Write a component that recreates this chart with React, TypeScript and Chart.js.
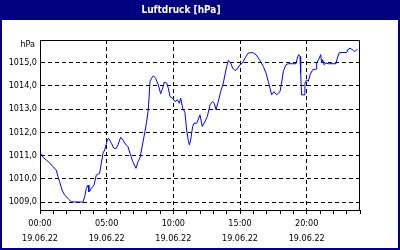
import React, { useEffect, useRef } from "react";
import { Chart, registerables } from "chart.js";

Chart.register(...registerables);

const TITLE = "Luftdruck [hPa]";
const UNIT = "hPa";
const DATE_LABEL = "19.06.22";

const hours = [
  0, 0.22, 0.47, 0.72, 0.97, 1.22, 1.35, 1.47, 1.65, 1.85, 2.22, 2.35, 3.22, 3.35, 3.47, 3.6, 3.67, 3.85,
  4.05, 4.22, 4.47, 4.6, 4.72, 4.85, 5.05, 5.15, 5.35, 5.55, 5.72, 5.85, 6.05, 6.22, 6.4, 6.6, 6.75, 6.95,
  7.2, 7.35, 7.5, 7.87, 8.0, 8.12, 8.2, 8.25, 8.37, 8.5, 8.67, 8.87, 9.05, 9.2, 9.32, 9.5, 9.62, 9.75, 9.95,
  10.12, 10.3, 10.45, 10.55, 10.7, 10.87, 11.0, 11.12, 11.2, 11.3, 11.45, 11.55, 11.75, 12.0, 12.17, 12.37,
  12.55, 12.75, 12.95, 13.07, 13.2, 13.37, 13.55, 13.75, 13.87, 14.0, 14.12, 14.3, 14.45, 14.62, 14.75, 15.0,
  15.2, 15.37, 15.62, 15.95, 16.2, 16.5, 16.75, 16.95, 17.12, 17.25, 17.37, 17.55, 17.75, 18.0, 18.12, 18.25,
  18.45, 18.62, 19.2, 19.3, 19.4, 19.5, 19.55, 19.62, 19.8, 19.87, 20.0, 20.12, 20.25, 20.45, 20.7, 20.75,
  20.95, 21.05, 21.12, 21.2, 21.3, 21.45, 21.62, 22.2, 22.3, 22.45, 23.0, 23.12, 23.25, 23.5, 23.62, 23.8,
];

const pressure = [
  1011.14, 1010.93, 1010.81, 1010.69, 1010.52, 1010.38, 1010.09, 1009.88, 1009.52, 1009.3, 1009.09, 1009.01,
  1009.0, 1009.23, 1009.59, 1009.73, 1009.44, 1009.59, 1009.73, 1010.16, 1010.24, 1010.67, 1011.1, 1011.24,
  1011.67, 1011.74, 1011.53, 1011.31, 1011.31, 1011.46, 1011.79, 1011.67, 1011.5, 1011.38, 1011.1, 1010.75,
  1010.45, 1010.74, 1010.9, 1012.03, 1012.46, 1012.97, 1013.69, 1014.19, 1014.33, 1014.43, 1014.33, 1014.04,
  1013.66, 1013.9, 1014.16, 1014.12, 1013.9, 1013.54, 1013.47, 1013.32, 1013.4, 1013.25, 1013.47, 1013.04,
  1012.85, 1012.1, 1011.65, 1011.46, 1011.67, 1012.25, 1012.39, 1012.39, 1012.75, 1012.25, 1012.46, 1012.68,
  1013.18, 1013.32, 1013.25, 1012.97, 1013.32, 1013.75, 1014.12, 1014.47, 1014.83, 1015.09, 1014.98, 1014.76,
  1014.66, 1014.69, 1014.91, 1014.98, 1015.19, 1015.41, 1015.43, 1015.34, 1015.09, 1014.83, 1014.55, 1014.19,
  1013.9, 1013.61, 1013.75, 1013.61, 1013.75, 1014.12, 1014.62, 1014.91, 1014.95, 1014.95, 1015.19, 1015.34,
  1015.26, 1014.55, 1013.61, 1013.61, 1014.12, 1014.26, 1014.19, 1014.47, 1014.69, 1014.72, 1014.98, 1015.19,
  1015.34, 1014.98, 1015.12, 1014.91, 1014.98, 1014.95, 1014.95, 1015.19, 1015.43, 1015.43, 1015.58, 1015.62,
  1015.52, 1015.47, 1015.58,
];

const yTicks = [1009, 1010, 1011, 1012, 1013, 1014, 1015];
const xTicks = [0, 1, 2, 3, 4, 5, 6, 7, 8, 9, 10, 11, 12, 13, 14, 15, 16, 17, 18, 19, 20, 21, 22, 23, 24];
const xLabelHours = [0, 5, 10, 15, 20];
const xLabelTimes = ["00:00", "05:00", "10:00", "15:00", "20:00"];

const Y_MIN = 1008.66;
const Y_MAX = 1015.97;

const FONT = "'DejaVu Sans Condensed', 'DejaVu Sans', sans-serif";
const NAVY = "#000080";

const framePlugin = {
  id: "frame",
  beforeDraw(chart: any) {
    const { ctx, width, height } = chart;
    ctx.save();
    ctx.fillStyle = NAVY;
    ctx.fillRect(0, 0, width, height);
    ctx.fillStyle = "#ffffff";
    ctx.fillRect(2, 20, width - 4, height - 22);
    ctx.restore();
  },
  afterDraw(chart: any) {
    const { ctx, chartArea } = chart;
    ctx.save();
    ctx.strokeStyle = "#000";
    ctx.lineWidth = 1;
    ctx.beginPath();
    const t = Math.round(chartArea.top) + 0.5;
    const r = Math.round(chartArea.right) - 0.5;
    const l = Math.round(chartArea.left);
    const b = Math.round(chartArea.bottom);
    ctx.moveTo(l, t);
    ctx.lineTo(r, t);
    ctx.lineTo(r, b);
    ctx.stroke();
    ctx.fillStyle = "#000";
    ctx.font = `9px ${FONT}`;
    ctx.textAlign = "right";
    ctx.textBaseline = "middle";
    ctx.fillText(UNIT, chartArea.left - 5, chartArea.top + 5);
    ctx.restore();
  },
};

export default function App() {
  const ref = useRef<HTMLCanvasElement>(null);
  useEffect(() => {
    document.body.style.margin = "0";
    if (!ref.current) return;
    const data = hours.map((h, i) => ({ x: h, y: pressure[i] }));
    const chart = new Chart(ref.current, {
      type: "line",
      data: {
        datasets: [
          {
            data,
            borderColor: "#0000ff",
            borderWidth: 1,
            pointRadius: 0,
            tension: 0,
            fill: false,
          },
        ],
      },
      plugins: [framePlugin],
      options: {
        animation: false,
        responsive: false,
        devicePixelRatio: 1,
        layout: { padding: { left: 2, right: 40, top: 0, bottom: 2 } },
        plugins: {
          legend: { display: false },
          tooltip: { enabled: false },
          title: {
            display: true,
            text: TITLE,
            color: "#ffffff",
            font: { family: FONT, size: 10, weight: "bold", lineHeight: 1.2 },
            padding: { top: 4, bottom: 24 },
          },
        },
        scales: {
          x: {
            type: "linear",
            min: 0,
            max: 24,
            afterBuildTicks: (scale: any) => {
              scale.ticks = xTicks.map((v) => ({ value: v }));
            },
            afterFit: (scale: any) => {
              scale.height = 38;
            },
            ticks: {
              autoSkip: false,
              maxRotation: 0,
              minRotation: 0,
              color: "#000",
              padding: 2,
              font: { family: FONT, size: 9, lineHeight: 1.67 },
              callback: (v: any) => {
                const idx = xLabelHours.indexOf(Number(v));
                return idx >= 0 ? [xLabelTimes[idx], DATE_LABEL] : "";
              },
            },
            grid: {
              drawTicks: true,
              tickLength: 4,
              tickColor: "#000",
              tickBorderDash: [],
              lineWidth: 1,
              color: (c: any) => {
                const v = c.tick ? c.tick.value : 0;
                return v > 0 && v < 24 && v % 5 === 0 ? "#000" : "rgba(0,0,0,0)";
              },
            },
            border: { display: true, color: "#000", width: 1, dash: [4, 3] },
          },
          y: {
            type: "linear",
            min: Y_MIN,
            max: Y_MAX,
            afterBuildTicks: (scale: any) => {
              scale.ticks = yTicks.map((v) => ({ value: v }));
            },
            afterFit: (scale: any) => {
              scale.width = 38;
            },
            ticks: {
              color: "#000",
              padding: 3,
              font: { family: FONT, size: 9 },
              callback: (v: any) => Number(v).toFixed(1).replace(".", ","),
            },
            grid: {
              drawTicks: false,
              color: "#000",
              lineWidth: 1,
            },
            border: { display: true, color: "#000", width: 1, dash: [4, 3] },
          },
        },
      },
    });
    return () => chart.destroy();
  }, []);
  return (
    <div style={{ width: 400, height: 250 }}>
      <canvas ref={ref} width={400} height={250} />
    </div>
  );
}
